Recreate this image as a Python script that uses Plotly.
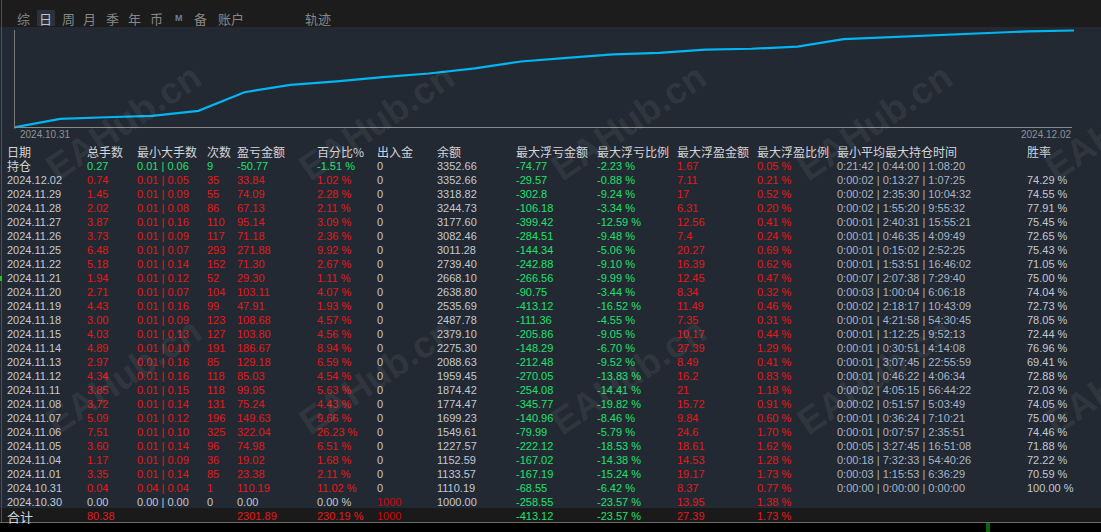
import plotly.graph_objects as go
import numpy as np

W, H = 1101, 532

# ---- table data (top row = open positions, then one row per day, newest first)
dates = ["2024.12.02", "2024.11.29", "2024.11.28", "2024.11.27", "2024.11.26", "2024.11.25",
         "2024.11.22", "2024.11.21", "2024.11.20", "2024.11.19", "2024.11.18", "2024.11.15",
         "2024.11.14", "2024.11.13", "2024.11.12", "2024.11.11", "2024.11.08", "2024.11.07",
         "2024.11.06", "2024.11.05", "2024.11.04", "2024.11.01", "2024.10.31", "2024.10.30"]
total_lots = [0.74, 1.45, 2.02, 3.87, 3.73, 6.48, 5.18, 1.94, 2.71, 4.43, 3.00, 4.03,
              4.89, 2.97, 4.34, 3.85, 3.72, 5.09, 7.51, 3.60, 1.17, 3.35, 0.04, 0.00]
min_lots = [0.01] * 22 + [0.04, 0.00]
max_lots = [0.05, 0.09, 0.08, 0.16, 0.09, 0.07, 0.14, 0.12, 0.07, 0.16, 0.09, 0.13,
            0.10, 0.16, 0.16, 0.15, 0.14, 0.12, 0.10, 0.14, 0.09, 0.14, 0.04, 0.00]
trades = [35, 55, 86, 110, 117, 293, 152, 52, 104, 99, 123, 127,
          191, 85, 118, 118, 131, 196, 325, 96, 36, 85, 1, 0]
profit = [33.84, 74.09, 67.13, 95.14, 71.18, 271.88, 71.30, 29.30, 103.11, 47.91, 108.68, 103.80,
          186.67, 129.18, 85.03, 99.95, 75.24, 149.63, 322.04, 74.98, 19.02, 23.38, 110.19, 0.00]
profit_pct = [1.02, 2.28, 2.11, 3.09, 2.36, 9.92, 2.67, 1.11, 4.07, 1.93, 4.57, 4.56,
              8.94, 6.59, 4.54, 5.63, 4.43, 9.66, 26.23, 6.51, 1.68, 2.11, 11.02, 0.00]
deposit = [0] * 23 + [1000]
balance = [3352.66, 3318.82, 3244.73, 3177.60, 3082.46, 3011.28, 2739.40, 2668.10, 2638.80,
           2535.69, 2487.78, 2379.10, 2275.30, 2088.63, 1959.45, 1874.42, 1774.47, 1699.23,
           1549.61, 1227.57, 1152.59, 1133.57, 1110.19, 1000.00]
max_float_loss = [-29.57, -302.8, -106.18, -399.42, -284.51, -144.34, -242.88, -266.56, -90.75,
                  -413.12, -111.36, -205.86, -148.29, -212.48, -270.05, -254.08, -345.77, -140.96,
                  -79.99, -222.12, -167.02, -167.19, -68.55, -258.55]
max_float_loss_pct = [-0.88, -9.24, -3.34, -12.59, -9.48, -5.06, -9.10, -9.99, -3.44, -16.52,
                      -4.55, -9.05, -6.70, -9.52, -13.83, -14.41, -19.82, -8.46, -5.79, -18.53,
                      -14.38, -15.24, -6.42, -23.57]
max_float_profit = [7.11, 17, 6.31, 12.56, 7.4, 20.27, 16.39, 12.45, 8.34, 11.49, 7.35, 10.17,
                    27.39, 8.49, 16.2, 21, 15.72, 9.84, 24.6, 18.61, 14.53, 19.17, 8.37, 13.95]
max_float_profit_pct = [0.21, 0.52, 0.20, 0.41, 0.24, 0.69, 0.62, 0.47, 0.32, 0.46, 0.31, 0.44,
                        1.29, 0.41, 0.83, 1.18, 0.91, 0.60, 1.70, 1.62, 1.28, 1.73, 0.77, 1.38]
hold_min = ["0:00:02", "0:00:02", "0:00:02", "0:00:01", "0:00:01", "0:00:01", "0:00:01", "0:00:07",
            "0:00:03", "0:00:02", "0:00:01", "0:00:01", "0:00:01", "0:00:01", "0:00:01", "0:00:02",
            "0:00:02", "0:00:01", "0:00:01", "0:00:05", "0:00:18", "0:00:03", "0:00:00", ""]
hold_avg = ["0:13:27", "2:35:30", "1:55:20", "2:40:31", "0:46:35", "0:15:02", "1:53:51", "2:07:38",
            "1:00:04", "2:18:17", "4:21:58", "1:12:25", "0:30:51", "3:07:45", "0:46:22", "4:05:15",
            "0:51:57", "0:36:24", "0:07:57", "3:27:45", "7:32:33", "1:15:53", "0:00:00", ""]
hold_max = ["1:07:25", "10:04:32", "9:55:32", "15:55:21", "4:09:49", "2:52:25", "16:46:02", "7:29:40",
            "6:06:18", "10:43:09", "54:30:45", "9:52:13", "4:14:08", "22:55:59", "4:06:34", "56:44:22",
            "5:03:49", "7:10:21", "2:35:51", "16:51:08", "54:40:26", "6:36:29", "0:00:00", ""]
win_rate = [74.29, 74.55, 77.91, 75.45, 72.65, 75.43, 71.05, 75.00, 74.04, 72.73, 78.05, 72.44,
            76.96, 69.41, 72.88, 72.03, 74.05, 75.00, 74.46, 71.88, 72.22, 70.59, 100.00, None]

# open positions row (持仓)
open_row = dict(lots=0.27, min_lot=0.01, max_lot=0.06, trades=9, profit=-50.77, pct=-1.51,
                deposit=0, balance=3352.66, fl=-74.77, fl_pct=-2.23, fp=1.67, fp_pct=0.05,
                hold=("0:21:42", "0:44:00", "1:08:20"))
# totals row (合计)
total_row = dict(lots=80.38, profit=2301.89, pct=230.19, deposit=1000,
                 fl=-413.12, fl_pct=-23.57, fp=27.39, fp_pct=1.73)

headers = ["日期", "总手数", "最小大手数", "次数", "盈亏金额", "百分比%", "出入金", "余额",
           "最大浮亏金额", "最大浮亏比例", "最大浮盈金额", "最大浮盈比例", "最小平均最大持仓时间", "胜率"]
tabs = ["综", "日", "周", "月", "季", "年", "币", "M", "备", "账户", "轨迹"]

# ---- style
BG = "#232932"
TOPBAR = "#1c1c1c"
RED = "#e21a1a"
DARKRED = "#c40c0c"
GREEN = "#1ee06c"
GREY = "#c2c8d2"
TIME = "#a9b4c6"
HEAD = "#d2d4d8"
NUM = "Liberation Sans, Arial, Noto Sans CJK SC"
CJK = "Noto Sans CJK SC, Liberation Sans"

col_x = [7, 87, 137, 207, 237, 317, 377, 437, 516, 597, 677, 757, 837, 1027]
tab_x = [17, 39, 62, 83, 106, 128, 150, 175, 194, 218, 305]

ann = []
shapes = []


def px(x):
    return x / W


def py(y):
    return 1 - y / H


def txt(x, y, s, color, size=11, family=NUM, anchor="left"):
    ann.append(dict(x=px(x - 2), y=py(y), xref="paper", yref="paper", text=s, showarrow=False,
                    xanchor=anchor, yanchor="middle", font=dict(family=family, size=size, color=color)))


def rect(x0, y0, x1, y1, fill):
    shapes.append(dict(type="rect", xref="paper", yref="paper", x0=px(x0), x1=px(x1),
                       y0=py(y1), y1=py(y0), fillcolor=fill, line=dict(width=0), layer="below"))


def line(x0, y0, x1, y1, color, w=1):
    shapes.append(dict(type="line", xref="paper", yref="paper", x0=px(x0), x1=px(x1),
                       y0=py(y0), y1=py(y1), line=dict(color=color, width=w)))


# backgrounds
rect(0, 0, W, 27, TOPBAR)
rect(37, 10, 55, 26, "#2b323e")
rect(0, 508, W, 522, "#1a1a1a")
rect(0, 523, W, H, "#000000")
line(0, 522.5, W, 522.5, "#6b6b6b")
line(1.5, 0, 1.5, 522, "#4b5058")
line(987, 523, 987, H, "#19c719")
line(989, 523, 989, H, "#19c719")
line(1, 276, 1, 281, "#19c719", 2)

# tabs
for t, x in zip(tabs, tab_x):
    c = "#b9c1cf" if t == "日" else "#878787"
    if t == "M":
        txt(x, 18, "<b>M</b>", "#6b7fa8", 9, NUM)
    else:
        txt(x, 18, t, c, 13, CJK)

# ---- balance chart: log scale over trading days (opening balance, then each day's close)
chart_bal = balance[::-1]
chart_x = list(range(len(chart_bal)))
lo, hi = np.log10(min(chart_bal)), np.log10(max(chart_bal))
per_px = (hi - lo) / (127.3 - 30.5)
yr = [lo - (131 - 127.3) * per_px, hi + (30.5 - 26) * per_px]

fig = go.Figure()
fig.add_trace(go.Scatter(x=chart_x, y=chart_bal, mode="lines",
                         line=dict(color="#00b6f2", width=2.2), hoverinfo="skip"))

line(14.5, 30, 14.5, 127.5, "#7a7a7a")
line(14, 127.5, 1072, 127.5, "#8a8a8a")
ann.append(dict(x=chart_x[0], y=py(134.5), xref="x", yref="paper", text=dates[-2], showarrow=False,
                xanchor="left", yanchor="middle", xshift=4, font=dict(family=NUM, size=10, color="#8b929c")))
ann.append(dict(x=chart_x[-1], y=py(134.5), xref="x", yref="paper", text=dates[0], showarrow=False,
                xanchor="right", yanchor="middle", xshift=-1, font=dict(family=NUM, size=10, color="#8b929c")))

# ---- table
y_head = 151.5
y0 = 165.6
step = 14.0
for h, x in zip(headers, col_x):
    txt(x, y_head, h, HEAD, 12, CJK)


def pct(v):
    return f"{v:.2f} %"


# open positions row
r = open_row
y = y0
txt(col_x[0], y, "持仓", HEAD, 12, CJK)
txt(col_x[1], y, f"{r['lots']:.2f}", GREEN)
txt(col_x[2], y, f"{r['min_lot']:.2f} | {r['max_lot']:.2f}", GREEN)
txt(col_x[3], y, str(r["trades"]), GREEN)
txt(col_x[4], y, f"{r['profit']:.2f}", GREEN)
txt(col_x[5], y, pct(r["pct"]), GREEN)
txt(col_x[6], y, str(r["deposit"]), GREY)
txt(col_x[7], y, f"{r['balance']:.2f}", GREY)
txt(col_x[8], y, f"{r['fl']:g}", GREEN)
txt(col_x[9], y, pct(r["fl_pct"]), GREEN)
txt(col_x[10], y, f"{r['fp']:g}", RED)
txt(col_x[11], y, pct(r["fp_pct"]), RED)
txt(col_x[12], y, " | ".join(r["hold"]), TIME)

# daily rows
for i, d in enumerate(dates):
    y = y0 + step * (i + 1)
    active = trades[i] > 0
    c = RED if active else GREY
    txt(col_x[0], y, d, GREY)
    txt(col_x[1], y, f"{total_lots[i]:.2f}", c)
    txt(col_x[2], y, f"{min_lots[i]:.2f} | {max_lots[i]:.2f}", c)
    txt(col_x[3], y, str(trades[i]), c)
    txt(col_x[4], y, f"{profit[i]:.2f}", c)
    txt(col_x[5], y, pct(profit_pct[i]), c)
    txt(col_x[6], y, str(deposit[i]), DARKRED if deposit[i] else GREY)
    txt(col_x[7], y, f"{balance[i]:.2f}", GREY)
    txt(col_x[8], y, f"{max_float_loss[i]:g}", GREEN)
    txt(col_x[9], y, pct(max_float_loss_pct[i]), GREEN)
    txt(col_x[10], y, f"{max_float_profit[i]:g}", RED)
    txt(col_x[11], y, pct(max_float_profit_pct[i]), RED)
    if hold_min[i]:
        txt(col_x[12], y, f"{hold_min[i]} | {hold_avg[i]} | {hold_max[i]}", TIME)
    if win_rate[i] is not None:
        txt(col_x[13], y, pct(win_rate[i]), GREY)

# totals row
r = total_row
y = 516
txt(col_x[0], y, "合计", HEAD, 13, CJK)
txt(col_x[1], y, f"{r['lots']:.2f}", RED)
txt(col_x[4], y, f"{r['profit']:.2f}", RED)
txt(col_x[5], y, pct(r["pct"]), RED)
txt(col_x[6], y, str(r["deposit"]), DARKRED)
txt(col_x[8], y, f"{r['fl']:g}", GREEN)
txt(col_x[9], y, pct(r["fl_pct"]), GREEN)
txt(col_x[10], y, f"{r['fp']:g}", RED)
txt(col_x[11], y, pct(r["fp_pct"]), RED)

# watermark
for wy in [122, 376]:
    for wx in [123, 376, 628, 874, 1122]:
        ann.append(dict(x=px(wx), y=py(wy), xref="paper", yref="paper", text="<b>EAHub.cn</b>",
                        showarrow=False, textangle=-34, xanchor="center", yanchor="middle",
                        font=dict(family="Liberation Sans", size=37, color="rgba(255,255,255,0.08)")))

fig.update_layout(
    width=W, height=H,
    margin=dict(l=0, r=0, t=0, b=0),
    paper_bgcolor=BG, plot_bgcolor=BG,
    showlegend=False,
    xaxis=dict(domain=[px(14), px(1074)], range=[chart_x[0], chart_x[-1]],
               showgrid=False, zeroline=False, showticklabels=False, showline=False, ticks=""),
    yaxis=dict(domain=[py(131), py(26)], type="log", range=yr,
               showgrid=False, zeroline=False, showticklabels=False, showline=False, ticks=""),
    annotations=ann,
    shapes=shapes,
)

# page body has a default 8px margin; drop it so the figure sits at the window corner
fig.write_html("out.html", config={"displayModeBar": False},
               post_script="document.body.style.margin='0';document.body.style.overflow='hidden';")
